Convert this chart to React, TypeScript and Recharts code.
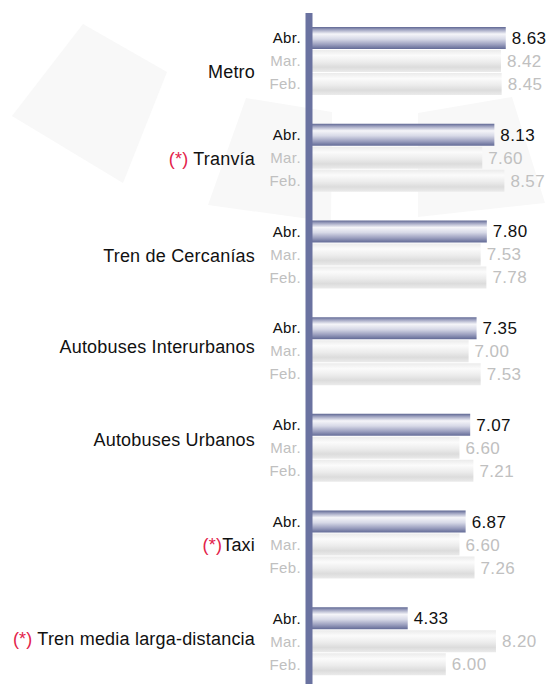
import { BarChart, Bar, XAxis, YAxis, LabelList } from 'recharts';

// categories top to bottom, "(*)" prefix kept as in the source
const categories = [
  'Metro',
  '(*) Tranvía',
  'Tren de Cercanías',
  'Autobuses Interurbanos',
  'Autobuses Urbanos',
  '(*)Taxi',
  '(*) Tren media larga-distancia',
];

const abrValues = [8.63, 8.13, 7.80, 7.35, 7.07, 6.87, 4.33];
const marValues = [8.42, 7.60, 7.53, 7.00, 6.60, 6.60, 8.20];
const febValues = [8.45, 8.57, 7.78, 7.53, 7.21, 7.26, 6.00];

const seriesLabels = ['Abr.', 'Mar.', 'Feb.'];

const data = categories.map((name, i) => ({
  name,
  abr: abrValues[i],
  mar: marValues[i],
  feb: febValues[i],
}));

// small vertical nudges for the category names (the source isn't perfectly centred)
const labelShift = [10, 0, 1, -5, -9, 0, -3];

const FONT = '"Liberation Sans", Arial, sans-serif';
const AXIS_COLOR = '#6a72a0';
const RED = '#e3224a';
const GREY_TEXT = '#c0c0c0';

const CategoryTick = (props: any) => {
  const { y, payload } = props;
  const label: string = payload.value;
  const idx = categories.indexOf(label);
  const shift = idx >= 0 ? labelShift[idx] : 0;
  const starred = label.startsWith('(*)');
  const rest = starred ? label.slice(3) : label;
  return (
    <text
      x={255}
      y={y + shift}
      dy="0.36em"
      textAnchor="end"
      fontFamily={FONT}
      fontSize={18}
      letterSpacing={0.2}
      fill="#111"
    >
      {starred && <tspan fill={RED}>(*)</tspan>}
      <tspan>{rest}</tspan>
    </text>
  );
};

const fmt = (v: any) => Number(v).toFixed(2);

const App = () => {
  return (
    <div
      style={{
        position: 'fixed',
        left: 0,
        top: 0,
        width: 550,
        height: 684,
        overflow: 'hidden',
        background: '#fff',
      }}
    >
      {/* faint decorative squares behind the chart */}
      <svg width={550} height={684} style={{ position: 'absolute', left: 0, top: 0 }}>
        <polygon points="12,116 83,24 167,72 123,183" fill="#f8f8f8" />
        <polygon points="246,98 332,112 331,222 208,205" fill="#f8f8f8" />
        <polygon points="418,113 512,97 545,203 418,217" fill="#f8f8f8" />
      </svg>
      <div style={{ position: 'absolute', left: 0, top: 0 }}>
        <BarChart
          width={550}
          height={700}
          data={data}
          layout="vertical"
          margin={{ top: 13, right: 13, bottom: 10, left: 0 }}
          barSize={22}
          barGap={1}
        >
          <defs>
            <linearGradient id="abrGrad" x1="0" y1="0" x2="0" y2="1">
              <stop offset="0%" stopColor="#5f6793" />
              <stop offset="12%" stopColor="#9ea2c0" />
              <stop offset="32%" stopColor="#f5f5f9" />
              <stop offset="55%" stopColor="#d7d9e7" />
              <stop offset="80%" stopColor="#9a9ebe" />
              <stop offset="100%" stopColor="#626a96" />
            </linearGradient>
            <linearGradient id="greyGrad" x1="0" y1="0" x2="0" y2="1">
              <stop offset="0%" stopColor="#ebebeb" />
              <stop offset="25%" stopColor="#fbfbfb" />
              <stop offset="55%" stopColor="#ececec" />
              <stop offset="78%" stopColor="#dcdcdc" />
              <stop offset="100%" stopColor="#ebebeb" />
            </linearGradient>
          </defs>
          <XAxis type="number" domain={[0, 10]} hide />
          <YAxis
            type="category"
            dataKey="name"
            width={309}
            interval={0}
            tickLine={false}
            axisLine={{ stroke: AXIS_COLOR, strokeWidth: 7 }}
            tick={(p: any) => <CategoryTick {...p} />}
          />
          <Bar dataKey="abr" fill="url(#abrGrad)" isAnimationActive={false}>
            <LabelList
              dataKey="abr"
              position="left"
              offset={8}
              formatter={() => seriesLabels[0]}
              fill="#111"
              fontSize={15}
              fontFamily={FONT}
              letterSpacing={0.4}
            />
            <LabelList
              dataKey="abr"
              position="right"
              offset={6}
              formatter={fmt}
              fill="#111"
              fontSize={17}
              fontFamily={FONT}
              letterSpacing={0.4}
            />
          </Bar>
          <Bar dataKey="mar" fill="url(#greyGrad)" isAnimationActive={false}>
            <LabelList
              dataKey="mar"
              position="left"
              offset={8}
              formatter={() => seriesLabels[1]}
              fill={GREY_TEXT}
              fontSize={15}
              fontFamily={FONT}
              letterSpacing={0.4}
            />
            <LabelList
              dataKey="mar"
              position="right"
              offset={6}
              formatter={fmt}
              fill={GREY_TEXT}
              fontSize={17}
              fontFamily={FONT}
              letterSpacing={0.4}
            />
          </Bar>
          <Bar dataKey="feb" fill="url(#greyGrad)" isAnimationActive={false}>
            <LabelList
              dataKey="feb"
              position="left"
              offset={8}
              formatter={() => seriesLabels[2]}
              fill={GREY_TEXT}
              fontSize={15}
              fontFamily={FONT}
              letterSpacing={0.4}
            />
            <LabelList
              dataKey="feb"
              position="right"
              offset={6}
              formatter={fmt}
              fill={GREY_TEXT}
              fontSize={17}
              fontFamily={FONT}
              letterSpacing={0.4}
            />
          </Bar>
        </BarChart>
      </div>
    </div>
  );
};

export default App;
